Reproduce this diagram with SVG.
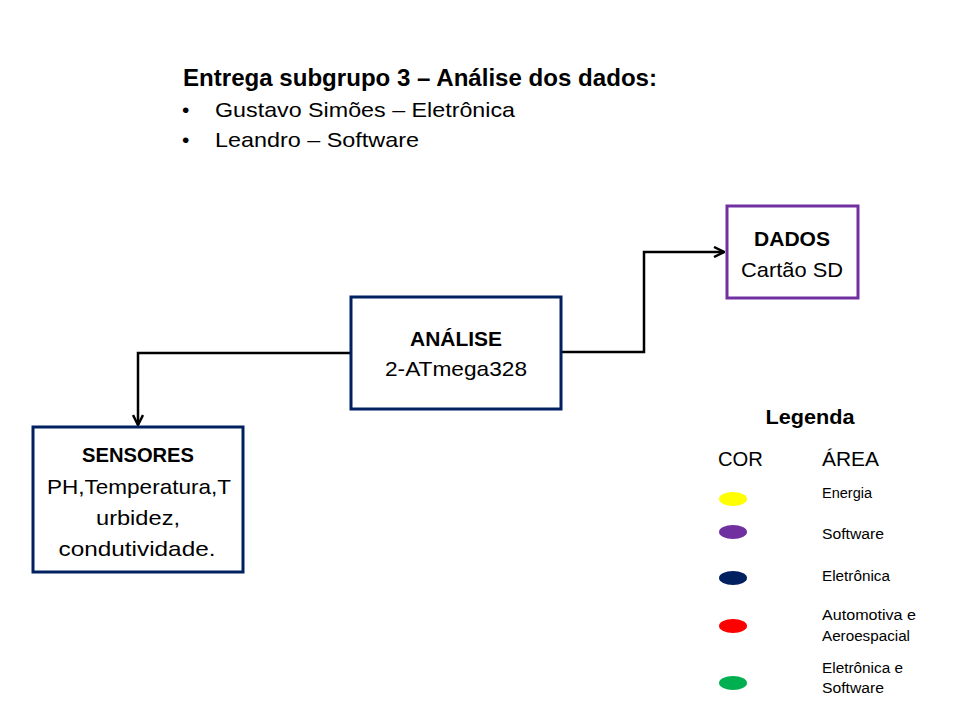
<svg xmlns="http://www.w3.org/2000/svg" width="956" height="720" viewBox="0 0 956 720">
<style>
text{font-family:"Liberation Sans",Arial,sans-serif;fill:#000}
.b{font-weight:bold}
.t{font-size:21px}
.c{text-anchor:middle}
.s{font-size:14px}
.box{fill:#fff;stroke-width:3}
.conn{fill:none;stroke:#000;stroke-width:2.5}
</style>
<defs>
<marker id="ah" viewBox="0 0 12 12" refX="11" refY="6" markerWidth="12" markerHeight="12" markerUnits="userSpaceOnUse" orient="auto">
<path d="M1,1 L11,6 L1,11" fill="none" stroke="#000" stroke-width="2.5"/>
</marker>
</defs>
<rect width="956" height="720" fill="#fff"/>
<g id="title">
<text class="b" x="183" y="86" font-size="23" textLength="474" lengthAdjust="spacingAndGlyphs">Entrega subgrupo 3 – Análise dos dados:</text>
<text class="t" x="182" y="117">•</text>
<text class="t" x="215" y="117" textLength="300" lengthAdjust="spacingAndGlyphs">Gustavo Simões  – Eletrônica</text>
<text class="t" x="182" y="147">•</text>
<text class="t" x="215" y="147" textLength="204" lengthAdjust="spacingAndGlyphs">Leandro – Software</text>
</g>
<g id="connectors">
<path class="conn" d="M351,353 H138 V425" marker-end="url(#ah)"/>
<path class="conn" d="M561,352 H644 V252 H724" marker-end="url(#ah)"/>
</g>
<g id="analise">
<rect class="box" x="351" y="297" width="210" height="112" stroke="#002060"/>
<text class="t b c" x="456" y="346" textLength="92" lengthAdjust="spacingAndGlyphs">ANÁLISE</text>
<text class="t c" x="456" y="376" textLength="142" lengthAdjust="spacingAndGlyphs">2-ATmega328</text>
</g>
<g id="sensores">
<rect class="box" x="33" y="427" width="210" height="145" stroke="#002060"/>
<text class="t b c" x="138" y="462" textLength="112" lengthAdjust="spacingAndGlyphs">SENSORES</text>
<text class="t c" x="139" y="494" textLength="184" lengthAdjust="spacingAndGlyphs">PH,Temperatura,T</text>
<text class="t c" x="138" y="525" textLength="84" lengthAdjust="spacingAndGlyphs">urbidez,</text>
<text class="t c" x="137" y="556" textLength="157" lengthAdjust="spacingAndGlyphs">condutividade.</text>
</g>
<g id="dados">
<rect class="box" x="727" y="206" width="131" height="92" stroke="#7030A0"/>
<text class="t b c" x="792" y="246" textLength="76" lengthAdjust="spacingAndGlyphs">DADOS</text>
<text class="t c" x="792" y="277" textLength="102" lengthAdjust="spacingAndGlyphs">Cartão SD</text>
</g>
<g id="legenda">
<text class="b c" x="810" y="424" font-size="20" textLength="89" lengthAdjust="spacingAndGlyphs">Legenda</text>
<text x="718" y="466" font-size="21" textLength="45" lengthAdjust="spacingAndGlyphs">COR</text>
<text x="822" y="466" font-size="21" textLength="57" lengthAdjust="spacingAndGlyphs">ÁREA</text>
<ellipse cx="733" cy="499" rx="14" ry="7" fill="#FFFF00"/>
<ellipse cx="733" cy="532" rx="14" ry="7" fill="#7030A0"/>
<ellipse cx="733" cy="578" rx="14" ry="7" fill="#002060"/>
<ellipse cx="733" cy="626" rx="14" ry="7" fill="#FF0000"/>
<ellipse cx="733" cy="683" rx="14" ry="7" fill="#00B050"/>
<text class="s" x="822" y="498" textLength="50" lengthAdjust="spacingAndGlyphs">Energia</text>
<text class="s" x="822" y="539" textLength="62" lengthAdjust="spacingAndGlyphs">Software</text>
<text class="s" x="822" y="581" textLength="68" lengthAdjust="spacingAndGlyphs">Eletrônica</text>
<text class="s" x="822" y="620" textLength="94" lengthAdjust="spacingAndGlyphs">Automotiva e</text>
<text class="s" x="822" y="641" textLength="88" lengthAdjust="spacingAndGlyphs">Aeroespacial</text>
<text class="s" x="822" y="673" textLength="81" lengthAdjust="spacingAndGlyphs">Eletrônica e</text>
<text class="s" x="822" y="693" textLength="62" lengthAdjust="spacingAndGlyphs">Software</text>
</g>
</svg>
